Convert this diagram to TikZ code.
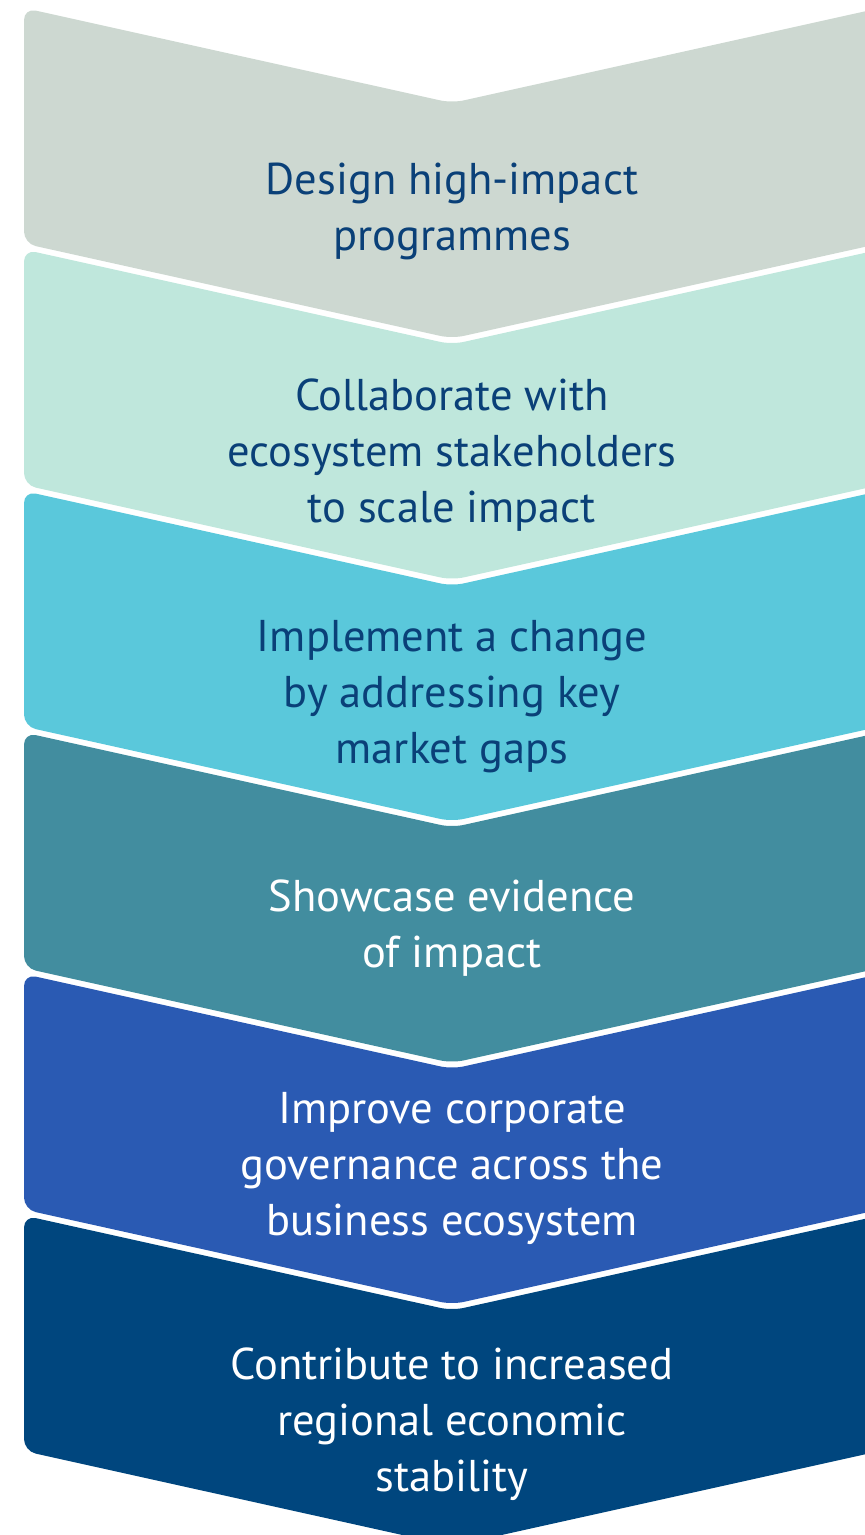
\documentclass[tikz,border=0pt]{standalone}
\usepackage{fontspec}
\setmainfont{PT Sans}
\definecolor{cGrey}{HTML}{CDD8D1}
\definecolor{cMint}{HTML}{BFE7DC}
\definecolor{cCyan}{HTML}{5AC8DB}
\definecolor{cTeal}{HTML}{428D9F}
\definecolor{cBlue}{HTML}{2A5AB3}
\definecolor{cNavy}{HTML}{00467E}
\definecolor{cInk}{HTML}{0A4078}
\begin{document}
\begin{tikzpicture}[x=1pt,y=-1pt,
  chev/.style={rounded corners=12pt},
  lbl/.style={align=center, inner sep=0pt, font=\fontsize{44.5}{56}\selectfont}]
\useasboundingbox (0,0) rectangle (865,1535);
\clip (0,0) rectangle (865,1535);
% six stacked chevrons, each pointing down
\foreach \i/\c in {0/cGrey,1/cMint,2/cCyan,3/cTeal,4/cBlue,5/cNavy}{
  \pgfmathsetmacro\T{8+241.5*\i}
  \fill[\c, chev] (24,\T+120) -- (24,\T) -- (452,\T+95) -- (880,\T)
    -- (880,\T+235.5) -- (452,\T+330.5) -- (24,\T+235.5) -- cycle;
}
\node[lbl, text=cInk]  (s1) at (452,211)  {Design high-impact\\programmes};
\node[lbl, text=cInk]  (s2) at (452,455)  {Collaborate with\\ecosystem stakeholders\\to scale impact};
\node[lbl, text=cInk]  (s3) at (452,697)  {Implement a change\\by addressing key\\market gaps};
\node[lbl, text=white] (s4) at (452,928)  {Showcase evidence\\of impact};
\node[lbl, text=white] (s5) at (452,1168) {Improve corporate\\governance across the\\business ecosystem};
\node[lbl, text=white] (s6) at (452,1424) {Contribute to increased\\regional economic\\stability};
\end{tikzpicture}
\end{document}
